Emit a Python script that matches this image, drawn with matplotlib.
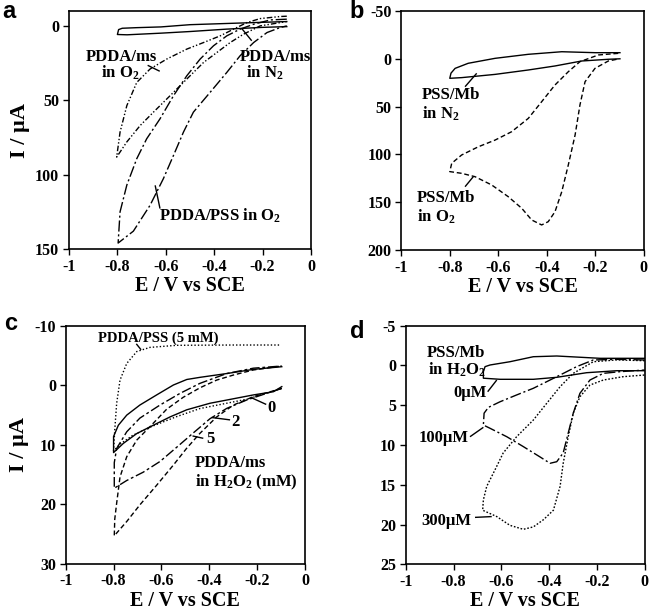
import matplotlib
matplotlib.use("Agg")
import matplotlib.pyplot as plt

plt.rcParams['font.family'] = ['Liberation Serif', 'DejaVu Serif']
plt.rcParams['font.weight'] = 'bold'
plt.rcParams['mathtext.fontset'] = 'custom'
plt.rcParams['mathtext.rm'] = 'Liberation Serif:bold'
plt.rcParams['mathtext.it'] = 'Liberation Serif:bold:italic'
plt.rcParams['mathtext.bf'] = 'Liberation Serif:bold'
plt.rcParams['mathtext.default'] = 'rm'

# ---------------- data ----------------
x_ticks = [-1, -0.8, -0.6, -0.4, -0.2, 0]
x_tick_labels = ['-1', '-0.8', '-0.6', '-0.4', '-0.2', '0']

# panel a
a_yticks = [0, 50, 100, 150]
a_n2_E = [-0.10, -0.20, -0.35, -0.50, -0.62, -0.72, -0.78, -0.795, -0.80, -0.76, -0.62, -0.50, -0.35, -0.20, -0.10]
a_n2_I = [-2.9, -2.4, -1.6, -0.8, 0.7, 1.2, 1.6, 2.5, 5.8, 6.0, 4.9, 3.8, 2.2, 1.0, 0.5]
a_ms_o2_E = [-0.10, -0.127, -0.210, -0.265, -0.320, -0.375, -0.444, -0.513, -0.596, -0.665, -0.720, -0.761, -0.789, -0.803,
             -0.761, -0.706, -0.651, -0.582, -0.513, -0.444, -0.389, -0.334, -0.279, -0.210, -0.127, -0.10]
a_ms_o2_I = [-6.5, -6.3, -4.9, -2.2, 2.2, 6.7, 11.2, 15.6, 22.3, 29.0, 38.0, 53.6, 71.4, 88.2,
             78, 67, 58, 46.9, 35.7, 24.6, 17.9, 11.2, 5.6, 0.0, -2.2, -2.9]
a_pss_o2_E = [-0.10, -0.168, -0.237, -0.293, -0.348, -0.403, -0.458, -0.513, -0.568, -0.624, -0.679, -0.720, -0.761, -0.789, -0.797,
              -0.734, -0.665, -0.610, -0.568, -0.527, -0.486, -0.417, -0.348, -0.293, -0.237, -0.182, -0.127, -0.10]
a_pss_o2_I = [-4.5, -4.0, -1.1, 2.2, 6.7, 13.4, 22.3, 33.5, 46.9, 62.5, 75.9, 89.3, 107, 125, 146,
              138, 120.6, 102.7, 87, 71.4, 58, 44.7, 31.3, 20.1, 11.2, 4.5, 1.1, 0.0]

# panel b
b_yticks = [-50, 0, 50, 100, 150, 200]
b_n2_E = [-0.098, -0.201, -0.338, -0.476, -0.613, -0.724, -0.778, -0.795, -0.80, -0.751, -0.613, -0.476, -0.366, -0.256, -0.146, -0.098]
b_n2_I = [-6.4, -6.4, -7.4, -4.7, -0.5, 4.7, 10, 15, 20.4, 19.7, 16.3, 11.7, 7.5, 2.3, 0.5, 0.0]
b_o2_E = [-0.105, -0.187, -0.263, -0.311, -0.366, -0.421, -0.476, -0.545, -0.613, -0.682, -0.751, -0.792, -0.80,
          -0.751, -0.696, -0.627, -0.559, -0.503, -0.462, -0.421, -0.394, -0.366, -0.338, -0.311, -0.283, -0.263,
          -0.242, -0.201, -0.146, -0.105]
b_o2_I = [-5.7, -4, 3, 13.5, 27.4, 44.9, 62.3, 76.3, 85, 92, 100.6, 109.3, 118,
          119.8, 123.3, 132, 144.2, 156.4, 168.6, 173.8, 170.4, 160, 139, 111, 79.7, 48.3,
          24, 10, 2.3, 0.2]

# panel c
c_yticks = [-10, 0, 10, 20, 30]
c_pss_E = [-0.10, -0.24, -0.44, -0.54, -0.64, -0.72, -0.77, -0.80, -0.795, -0.787, -0.773, -0.745, -0.703, -0.648, -0.536, -0.30, -0.10]
c_pss_I = [0.5, 2.3, 3.9, 5.3, 6.9, 8.4, 9.8, 11.0, 7.5, 3.0, -0.9, -3.7, -5.7, -6.4, -6.75, -6.8, -6.8]
c_0_E = [-0.097, -0.132, -0.216, -0.327, -0.397, -0.494, -0.564, -0.634, -0.703, -0.759, -0.80,
         -0.80, -0.780, -0.745, -0.690, -0.620, -0.550, -0.494, -0.439, -0.327, -0.216, -0.097]
c_0_I = [0.2, 1.06, 1.6, 2.46, 3.0, 4.1, 5.3, 6.7, 8.1, 9.75, 11.3,
         8.6, 6.7, 5.0, 3.3, 1.6, -0.07, -1.0, -1.36, -2.0, -2.7, -3.15]
c_2_E = [-0.097, -0.160, -0.244, -0.327, -0.397, -0.467, -0.536, -0.606, -0.676, -0.745, -0.797,
         -0.797, -0.787, -0.745, -0.690, -0.606, -0.522, -0.439, -0.327, -0.216, -0.097]
c_2_I = [0.5, 1.33, 2.46, 3.86, 5.6, 8.0, 10.4, 12.8, 14.6, 16.0, 17.3,
         13.0, 10.6, 7.8, 5.5, 3.3, 1.33, -0.35, -2.0, -2.9, -3.27]
c_5_E = [-0.097, -0.216, -0.299, -0.369, -0.439, -0.495, -0.550, -0.620, -0.690, -0.745, -0.797,
         -0.795, -0.787, -0.773, -0.745, -0.703, -0.648, -0.578, -0.509, -0.439, -0.369, -0.299, -0.216, -0.097]
c_5_I = [0.5, 1.9, 3.3, 5.3, 8.06, 10.6, 13.4, 16.8, 20.1, 22.9, 25.3,
         22.5, 19.8, 15.4, 12.0, 9.2, 6.95, 4.0, 2.0, 0.4, -0.9, -1.75, -2.6, -3.27]

# panel d
d_yticks = [-5, 0, 5, 10, 15, 20, 25]
d_0_E = [0.0, -0.187, -0.368, -0.466, -0.564, -0.647, -0.668, -0.675, -0.675, -0.605, -0.466, -0.368, -0.243, -0.117, 0.0]
d_0_I = [-0.9, -0.9, -1.19, -1.1, -0.47, -0.06, 0.15, 0.78, 1.6, 1.74, 1.74, 1.49, 0.91, 0.66, 0.66]
d_100_E = [0.0, -0.117, -0.215, -0.285, -0.354, -0.410, -0.466, -0.536, -0.605, -0.654, -0.672, -0.675,
           -0.647, -0.577, -0.508, -0.438, -0.396, -0.368, -0.341, -0.320, -0.299, -0.271, -0.229, -0.173, -0.103, 0.0]
d_100_I = [-0.69, -0.77, -0.69, 0.15, 1.2, 2.04, 2.87, 3.71, 4.56, 5.27, 6.0, 7.49,
           7.9, 8.96, 10.2, 11.5, 12.3, 12.1, 11.0, 8.5, 6.0, 3.5, 1.83, 0.99, 0.78, 0.57]
d_300_E = [0.0, -0.117, -0.215, -0.299, -0.354, -0.410, -0.466, -0.536, -0.592, -0.626, -0.661, -0.675, -0.678,
           -0.619, -0.564, -0.508, -0.466, -0.424, -0.382, -0.354, -0.341, -0.320, -0.299, -0.271, -0.229, -0.173, -0.090, 0.0]
d_300_I = [-0.6, -0.7, -0.47, 0.99, 2.67, 4.76, 6.86, 8.96, 11.0, 13.1, 15.2, 16.9, 18.2,
           19.0, 20.1, 20.6, 20.3, 19.4, 18.2, 15.2, 12.3, 8.96, 6.0, 3.93, 2.46, 1.83, 1.41, 1.2]

# ---------------- figure ----------------
W, H = 653, 615
fig = plt.figure(figsize=(W / 100, H / 100), dpi=100)


def add_ax(left, top, right, bottom):
    return fig.add_axes([left / W, 1 - bottom / H, (right - left) / W, (bottom - top) / H])


axa = add_ax(69, 11, 311, 249)
axb = add_ax(401.3, 11, 643.7, 250)
axc = add_ax(65.7, 326, 305, 563.7)
axd = add_ax(405.7, 325.7, 644.7, 564.3)

LW = 1.0
TICKFS = 11.5
LABFS = 14.5
ANNFS = 12


def style(ax, yticks, ylim):
    ax.set_xlim(-1, 0)
    ax.set_ylim(*ylim)
    ax.set_xticks(x_ticks)
    ax.set_xticklabels(x_tick_labels)
    ax.set_yticks(yticks)
    ax.set_yticklabels([('-' + str(abs(v))) if v < 0 else str(v) for v in yticks])
    ax.tick_params(direction='out', length=4, width=1, labelsize=TICKFS, pad=3,
                   top=False, right=False)
    for lab in ax.get_xticklabels() + ax.get_yticklabels():
        lab.set_fontweight('bold')
    for s in ax.spines.values():
        s.set_linewidth(1.2)
    ax.set_xlabel('E / V vs SCE', fontsize=LABFS, fontweight='bold', labelpad=1)


def leader(ax, p1, p2):
    ax.plot([p1[0], p2[0]], [p1[1], p2[1]], color='black', lw=1.0, solid_capstyle='butt')


# panel a
axa.plot(a_n2_E, a_n2_I, color='black', lw=LW)
axa.plot(a_ms_o2_E, a_ms_o2_I, color='black', lw=LW, dashes=[4, 1.5, 1, 1.5, 1, 1.5])
axa.plot(a_pss_o2_E, a_pss_o2_I, color='black', lw=LW, dashes=[8, 2, 1.5, 2])
style(axa, a_yticks, (150, -10))
axa.set_ylabel('I / µA', fontsize=16, fontweight='bold', labelpad=4)
axa.text(-0.785, 23.4, 'PDDA/ms', fontsize=ANNFS, ha='center', va='baseline')
axa.text(-0.79, 34.6, 'in O$_2$', fontsize=ANNFS, ha='center', va='baseline')
leader(axa, (-0.675, 26.5), (-0.625, 30.5))
axa.text(-0.148, 23.4, 'PDDA/ms', fontsize=ANNFS, ha='center', va='baseline')
axa.text(-0.19, 34.6, 'in N$_2$', fontsize=ANNFS, ha='center', va='baseline')
leader(axa, (-0.245, 10), (-0.285, 2))
axa.text(-0.630, 130.6, 'PDDA/PSS in O$_2$', fontsize=ANNFS, ha='left', va='baseline')
leader(axa, (-0.624, 122.8), (-0.644, 107.2))

# panel b
axb.plot(b_n2_E, b_n2_I, color='black', lw=LW)
axb.plot(b_o2_E, b_o2_I, color='black', lw=LW, dashes=[3.5, 2])
style(axb, b_yticks, (200, -50))
axb.text(-0.916, 42, 'PSS/Mb', fontsize=ANNFS, ha='left', va='baseline')
axb.text(-0.916, 62.2, 'in N$_2$', fontsize=ANNFS, ha='left', va='baseline')
leader(axb, (-0.737, 29.2), (-0.689, 15.2))
axb.text(-0.936, 149.5, 'PSS/Mb', fontsize=ANNFS, ha='left', va='baseline')
axb.text(-0.936, 170.4, 'in O$_2$', fontsize=ANNFS, ha='left', va='baseline')
leader(axb, (-0.737, 133.8), (-0.703, 123.3))

# panel c
axc.plot(c_pss_E, c_pss_I, color='black', lw=LW, dashes=[1, 1.5])
axc.plot(c_0_E, c_0_I, color='black', lw=LW)
axc.plot(c_2_E, c_2_I, color='black', lw=LW, dashes=[7, 2, 2, 2])
axc.plot(c_5_E, c_5_I, color='black', lw=LW, dashes=[3.5, 2])
style(axc, c_yticks, (30, -10))
axc.set_ylabel('I / µA', fontsize=16, fontweight='bold', labelpad=4)
axc.text(-0.864, -7.36, 'PDDA/PSS (5 mM)', fontsize=10.5, ha='left', va='baseline')
leader(axc, (-0.705, -7.0), (-0.685, -6.0))
axc.text(-0.139, 4.4, '0', fontsize=ANNFS, ha='center', va='baseline')
leader(axc, (-0.162, 3.2), (-0.222, 2.1))
axc.text(-0.289, 6.8, '2', fontsize=ANNFS, ha='center', va='baseline')
leader(axc, (-0.313, 5.8), (-0.39, 5.4))
axc.text(-0.394, 9.75, '5', fontsize=ANNFS, ha='center', va='baseline')
leader(axc, (-0.425, 8.9), (-0.47, 8.5))
axc.text(-0.460, 13.7, 'PDDA/ms', fontsize=ANNFS, ha='left', va='baseline')
axc.text(-0.460, 17.05, 'in H$_2$O$_2$ (mM)', fontsize=ANNFS, ha='left', va='baseline')

# panel d
axd.plot(d_0_E, d_0_I, color='black', lw=LW)
axd.plot(d_100_E, d_100_I, color='black', lw=LW, dashes=[8, 2, 1.5, 2])
axd.plot(d_300_E, d_300_I, color='black', lw=LW, dashes=[1.2, 1.3])
style(axd, d_yticks, (25, -5))
axd.text(-0.912, -1.1, 'PSS/Mb', fontsize=ANNFS, ha='left', va='baseline')
axd.text(-0.905, 1.2, 'in H$_2$O$_2$', fontsize=ANNFS, ha='left', va='baseline')
axd.text(-0.801, 3.93, '0µM', fontsize=ANNFS, ha='left', va='baseline')
leader(axd, (-0.657, 3.3), (-0.619, 1.83))
axd.text(-0.947, 9.6, '100µM', fontsize=ANNFS, ha='left', va='baseline')
leader(axd, (-0.731, 8.96), (-0.675, 7.78))
axd.text(-0.933, 20.06, '300µM', fontsize=ANNFS, ha='left', va='baseline')
leader(axd, (-0.710, 19.1), (-0.640, 19.0))

# panel letters
for ch, x, y in [('a', 2, 18), ('b', 349.7, 18.3), ('c', 4, 330), ('d', 349.7, 338)]:
    fig.text(x / W, 1 - y / H, ch, fontsize=17, fontweight='bold',
             family=['Liberation Sans', 'DejaVu Sans'], ha='left', va='baseline')

fig.savefig('out.png', dpi=100)
